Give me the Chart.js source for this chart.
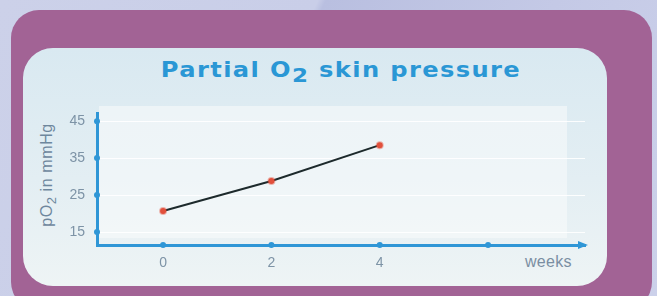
<!DOCTYPE html>
<html>
<head>
<meta charset="utf-8">
<script src="https://cdn.jsdelivr.net/npm/chart.js@4.4.1/dist/chart.umd.min.js"></script>
<style>
  html, body { margin: 0; padding: 0; }
  body {
    width: 657px; height: 296px; overflow: hidden; position: relative;
    background: linear-gradient(115deg, #ccd1e9 0%, #c9cee8 40%, #b9bfe0 41%, #c4c9e6 70%, #ccd1ea 100%);
    font-family: "Liberation Sans", Arial, sans-serif;
  }
  #frame {
    position: absolute; left: 11px; top: 10px; width: 641px; height: 300px;
    background: #a26395; border-radius: 28px;
  }
  #panel {
    position: absolute; left: 23px; top: 48px; width: 584px; height: 238px;
    border-radius: 30px;
    background: linear-gradient(180deg, #d9e9f1 0%, #e3eef3 55%, #eef4f5 100%);
  }
  #plotbg {
    position: absolute; left: 99px; top: 106px; width: 468px; height: 132px;
    background: rgba(250, 252, 252, 0.55);
  }
  #title {
    position: absolute; left: 341px; top: 58px; white-space: nowrap;
    transform: translateX(-50%) scaleX(1.15);
    font: bold 21px "DejaVu Sans", sans-serif; letter-spacing: 1.2px;
    color: #2a97d5;
  }
  #title sub { font-size: 20px; vertical-align: -5px; line-height: 0; }
  #ytitle {
    position: absolute; left: 47px; top: 175px; white-space: nowrap;
    transform: translate(-50%, -50%) rotate(-90deg);
    font-size: 16px; letter-spacing: 0.6px; color: #6e879d;
  }
  #ytitle sub { font-size: 13px; vertical-align: -4px; line-height: 0; }
  #xtitle {
    position: absolute; left: 525px; top: 253px;
    font-size: 16px; letter-spacing: 0.3px; color: #7a8ea2;
  }
  canvas { position: absolute; left: 0; top: 0; }
</style>
</head>
<body>
<div id="frame"></div>
<div id="panel"></div>
<div id="plotbg"></div>
<div id="title">Partial O<sub>2</sub> skin pressure</div>
<div id="ytitle">pO<sub>2</sub> in mmHg</div>
<div id="xtitle">weeks</div>
<canvas id="chart" width="657" height="296"></canvas>
<script>
// weeks and partial O2 skin pressure (mmHg)
const weeks = [0, 2, 4];
const po2 = [20.7, 28.8, 38.5];
const xTicks = [0, 2, 4, 6];
const xTickLabels = ['0', '2', '4', ''];
const yTicks = [15, 25, 35, 45];

const axisBlue = '#2f96d6';

// dots on the axes and the arrow head at the end of the x axis
const axisDecor = {
  id: 'axisDecor',
  afterDraw(chart) {
    const { ctx, chartArea, scales } = chart;
    ctx.save();
    ctx.fillStyle = axisBlue;
    xTicks.forEach(v => {
      ctx.beginPath();
      ctx.arc(scales.x.getPixelForValue(v), chartArea.bottom, 3, 0, Math.PI * 2);
      ctx.fill();
    });
    yTicks.forEach(v => {
      ctx.beginPath();
      ctx.arc(chartArea.left, scales.y.getPixelForValue(v), 3, 0, Math.PI * 2);
      ctx.fill();
    });
    ctx.beginPath();
    ctx.moveTo(chartArea.right + 3, chartArea.bottom);
    ctx.lineTo(chartArea.right - 7, chartArea.bottom - 4);
    ctx.lineTo(chartArea.right - 7, chartArea.bottom + 4);
    ctx.closePath();
    ctx.fill();
    ctx.restore();
  }
};

new Chart(document.getElementById('chart'), {
  type: 'line',
  data: {
    datasets: [{
      data: weeks.map((w, i) => ({ x: w, y: po2[i] })),
      borderColor: '#1d2a2c',
      borderWidth: 2,
      pointBackgroundColor: '#e2503c',
      pointBorderColor: 'rgba(226, 80, 60, 0.4)',
      pointBorderWidth: 2,
      pointRadius: 3,
      tension: 0
    }]
  },
  options: {
    responsive: false,
    animation: false,
    layout: { padding: { top: 113, right: 72, left: 0, bottom: 0 } },
    plugins: { legend: { display: false }, tooltip: { enabled: false }, title: { display: false } },
    scales: {
      x: {
        type: 'linear',
        min: -1.22,
        max: 7.79,
        afterBuildTicks: s => { s.ticks = xTicks.map(v => ({ value: v })); },
        afterFit: s => { s.height = 51; },
        grid: { display: false, drawTicks: false },
        border: { display: true, color: axisBlue, width: 3 },
        ticks: {
          padding: 10,
          color: '#7d93a6',
          font: { family: "'Liberation Sans', Arial, sans-serif", size: 14 },
          callback: (v) => xTickLabels[xTicks.indexOf(v)]
        }
      },
      y: {
        min: 11.5,
        max: 47.2,
        afterBuildTicks: s => { s.ticks = yTicks.map(v => ({ value: v })); },
        afterFit: s => { s.width = 97; },
        grid: { color: 'rgba(255, 255, 255, 0.9)', lineWidth: 1, drawTicks: false },
        border: { display: true, color: axisBlue, width: 3 },
        ticks: {
          padding: 12,
          color: '#7d93a6',
          font: { family: "'Liberation Sans', Arial, sans-serif", size: 14 }
        }
      }
    }
  },
  plugins: [axisDecor]
});
</script>
</body>
</html>
